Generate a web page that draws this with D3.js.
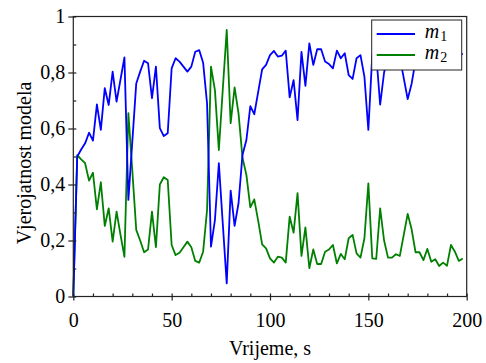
<!DOCTYPE html>
<html>
<head>
<meta charset="utf-8">
<script src="https://cdn.jsdelivr.net/npm/d3@7"></script>
<style>
  body { margin: 0; background: #fff; }
  svg { display: block; }
  .axis line, .axis path { stroke: #222; stroke-width: 1.2; }
</style>
</head>
<body>
<div id="chart"></div>
<script>
// vrijeme, s (svake 2 s)
const time = d3.range(0, 200, 2);

const m1 = [
  0, 0.50, 0.525, 0.547, 0.585, 0.557, 0.686, 0.595, 0.744, 0.684,
  0.803, 0.696, 0.775, 0.854, 0.345, 0.553, 0.761, 0.803, 0.842, 0.833,
  0.708, 0.821, 0.601, 0.573, 0.583, 0.815, 0.851, 0.839, 0.821, 0.803,
  0.821, 0.874, 0.880, 0.835, 0.690, 0.178, 0.273, 0.476, 0.260, 0.047,
  0.378, 0.252, 0.333, 0.505, 0.559, 0.680, 0.651, 0.731, 0.811, 0.827,
  0.862, 0.877, 0.857, 0.860, 0.878, 0.711, 0.773, 0.630, 0.874, 0.752,
  0.904, 0.827, 0.883, 0.883, 0.839, 0.830, 0.815, 0.878, 0.851, 0.869,
  0.791, 0.777, 0.851, 0.862, 0.785, 0.595, 0.864, 0.866, 0.685, 0.800,
  0.861, 0.861, 0.849, 0.855, 0.780, 0.705, 0.760, 0.842, 0.842, 0.870,
  0.830, 0.876, 0.867, 0.891, 0.879, 0.890, 0.816, 0.840, 0.873, 0.864
];

const m2 = [
  0, 0.505, 0.490, 0.476, 0.414, 0.442, 0.311, 0.408, 0.252, 0.315,
  0.196, 0.303, 0.220, 0.142, 0.655, 0.450, 0.238, 0.200, 0.158, 0.168,
  0.303, 0.176, 0.400, 0.426, 0.416, 0.184, 0.148, 0.156, 0.176, 0.196,
  0.176, 0.127, 0.121, 0.160, 0.309, 0.821, 0.737, 0.523, 0.740, 0.952,
  0.619, 0.747, 0.654, 0.497, 0.434, 0.318, 0.347, 0.270, 0.186, 0.172,
  0.136, 0.121, 0.142, 0.139, 0.121, 0.285, 0.228, 0.369, 0.145, 0.247,
  0.101, 0.168, 0.116, 0.116, 0.160, 0.168, 0.184, 0.118, 0.152, 0.133,
  0.208, 0.220, 0.154, 0.139, 0.208, 0.404, 0.136, 0.134, 0.315, 0.200,
  0.139, 0.139, 0.151, 0.145, 0.220, 0.295, 0.240, 0.158, 0.158, 0.130,
  0.170, 0.124, 0.133, 0.109, 0.121, 0.110, 0.184, 0.160, 0.127, 0.136
];

const xMajor = [0, 50, 100, 150, 200];
const yMajor = [0, 0.2, 0.4, 0.6, 0.8, 1];

const serif = "'Liberation Serif', 'Times New Roman', Times, 'Nimbus Roman', 'FreeSerif', 'DejaVu Serif', 'Noto Serif', serif";

const width = 486, height = 363;
const plot = { left: 73.3, right: 466.7, top: 16.5, bottom: 296.5 };

const svg = d3.select('#chart').append('svg')
  .attr('width', width)
  .attr('height', height)
  .attr('font-family', serif);

svg.append('rect').attr('width', width).attr('height', height).attr('fill', '#fff');

const x = d3.scaleLinear().domain([0, 200]).range([plot.left, plot.right]);
const y = d3.scaleLinear().domain([0, 1]).range([plot.bottom, plot.top]);

const yFormat = d => d === 0 ? '0' : d === 1 ? '1' : d3.format('.1f')(d).replace('.', ',');

// linije
const line = d3.line().x((d, i) => x(time[i])).y(d => y(d));

svg.append('path').datum(m2)
  .attr('fill', 'none').attr('stroke', '#008000').attr('stroke-width', 1.8)
  .attr('stroke-linejoin', 'round')
  .attr('d', line);

svg.append('path').datum(m1)
  .attr('fill', 'none').attr('stroke', '#0000ff').attr('stroke-width', 1.8)
  .attr('stroke-linejoin', 'round')
  .attr('d', line);

// okvir
svg.append('rect')
  .attr('x', plot.left).attr('y', plot.top)
  .attr('width', plot.right - plot.left).attr('height', plot.bottom - plot.top)
  .attr('fill', 'none').attr('stroke', '#222').attr('stroke-width', 1.2);

// x os
const gx = svg.append('g').attr('class', 'axis')
  .attr('transform', `translate(0,${plot.bottom})`)
  .call(d3.axisBottom(x).tickValues(xMajor).tickSize(4).tickSizeOuter(0));
gx.attr('font-family', serif).attr('font-size', 20);
gx.select('.domain').remove();
gx.selectAll('text').attr('y', 30).attr('dy', 0).attr('fill', '#000');

svg.append('g').attr('class', 'axis')
  .attr('transform', `translate(0,${plot.bottom})`)
  .call(d3.axisTop(x).tickValues(d3.range(0, 201, 10)).tickSize(3).tickFormat(''))
  .select('.domain').remove();

// y os
const gy = svg.append('g').attr('class', 'axis')
  .attr('transform', `translate(${plot.left},0)`)
  .call(d3.axisLeft(y).tickValues(yMajor).tickSize(5).tickSizeOuter(0).tickFormat(yFormat));
gy.attr('font-family', serif).attr('font-size', 20);
gy.select('.domain').remove();
gy.selectAll('text').attr('fill', '#000');

svg.append('g').attr('class', 'axis')
  .attr('transform', `translate(${plot.left},0)`)
  .call(d3.axisRight(y).tickValues(d3.range(0, 11).map(d => d / 10)).tickSize(3).tickFormat(''))
  .select('.domain').remove();

// nazivi osi
svg.append('text')
  .attr('x', (plot.left + plot.right) / 2).attr('y', 355)
  .attr('text-anchor', 'middle')
  .attr('font-size', 20)
  .text('Vrijeme, s');

svg.append('text')
  .attr('transform', `translate(31,163) rotate(-90)`)
  .attr('text-anchor', 'middle')
  .attr('font-size', 20)
  .text('Vjerojatnost modela');

// legenda
const legend = svg.append('g').attr('transform', 'translate(371.7,20)');
legend.append('rect')
  .attr('width', 90).attr('height', 50)
  .attr('fill', '#fff').attr('stroke', '#222').attr('stroke-width', 1);

const items = [{ name: '1', color: '#0000ff' }, { name: '2', color: '#008000' }];
const li = legend.selectAll('g.item').data(items).join('g')
  .attr('class', 'item')
  .attr('transform', (d, i) => `translate(0,${14 + i * 21})`);

li.append('line')
  .attr('x1', 5).attr('x2', 43.3)
  .attr('stroke', d => d.color).attr('stroke-width', 1.8);

const lt = li.append('text')
  .attr('x', 53).attr('y', 4)
  .attr('font-size', 20);
lt.append('tspan').attr('font-style', 'italic').text('m');
lt.append('tspan').attr('dy', 3).attr('dx', 1).attr('font-size', 14).text(d => d.name);
</script>
</body>
</html>
